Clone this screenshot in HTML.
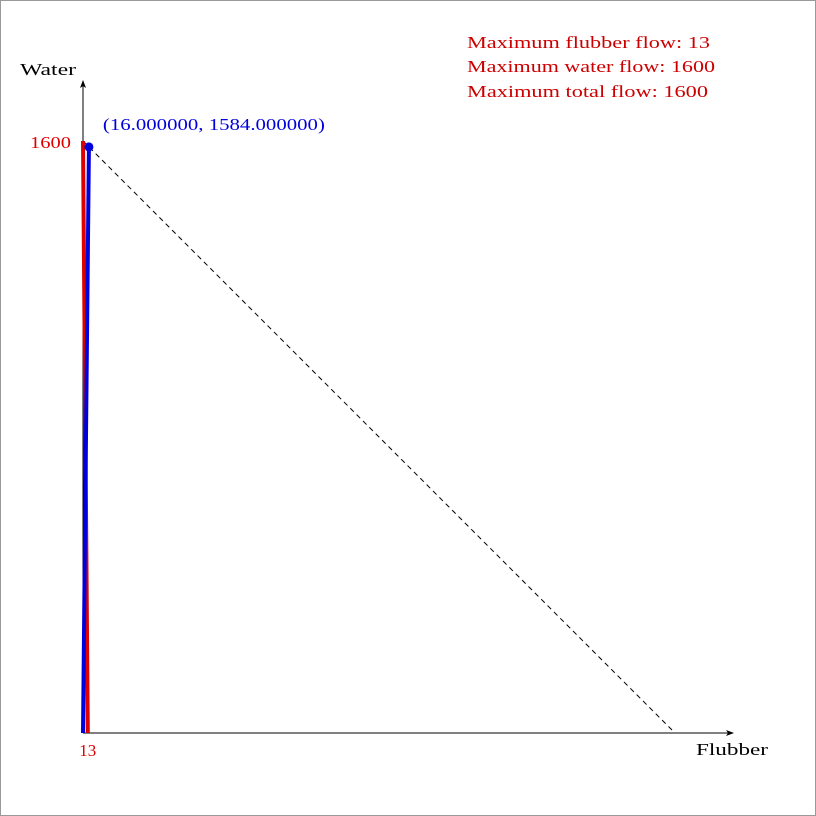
<!DOCTYPE html>
<html><head><meta charset="utf-8"><style>
html,body{margin:0;padding:0;background:#fff}
svg{display:block;font-family:"Liberation Serif",serif}
</style></head><body>
<svg width="816" height="816">
<rect x="0.5" y="0.5" width="815" height="815" fill="#fff" stroke="#999"/>
<g id="g"></g>
</svg>
<script>
const maxFlubber=[13];
const maxWater=[1600];
const maxTotal=[1600];
const point=[16,1584];
const ox=83, oy=733, s=0.37;
const X=v=>ox+v*s, Y=v=>oy-v*s;
const NS='http://www.w3.org/2000/svg', g=document.getElementById('g');
function mk(t,a,name,txt){const e=document.createElementNS(NS,t);for(const k in a)e.setAttribute(k,a[k]);


if(txt!==undefined)e.textContent=txt;g.appendChild(e);return e;}
mk('defs',{},'defs').innerHTML='<marker id="ar" markerWidth="8" markerHeight="6" refX="7" refY="3" orient="auto"><path d="M0,0 L8,3 L0,6 L2,3z" fill="#000"/></marker>';
mk('line',{x1:ox,y1:oy,x2:733,y2:oy,stroke:'#000','stroke-width':1,'marker-end':'url(#ar)'},'x-axis');
mk('line',{x1:ox,y1:oy,x2:ox,y2:81,stroke:'#000','stroke-width':1,'marker-end':'url(#ar)'},'y-axis');
mk('text',{x:696,y:755,'font-size':17,textLength:72,lengthAdjust:'spacingAndGlyphs'},'x-axis-title','Flubber');
mk('text',{x:20,y:75,'font-size':17,textLength:56,lengthAdjust:'spacingAndGlyphs'},'y-axis-title','Water');
mk('line',{x1:X(0),y1:Y(maxTotal[0]),x2:X(maxTotal[0]),y2:Y(0),stroke:'#000','stroke-dasharray':'5,4','stroke-width':1},'total-flow-line');
mk('line',{x1:X(maxFlubber[0]),y1:Y(0),x2:X(0),y2:Y(maxWater[0]),stroke:'#d00','stroke-width':4},'constraint-line');
mk('line',{x1:X(0),y1:Y(0),x2:X(point[0]),y2:Y(point[1]),stroke:'#00d','stroke-width':4},'optimal-line');
mk('circle',{cx:X(point[0]),cy:Y(point[1]),r:4.5,fill:'#00d'},'optimal-point');
mk('text',{x:X(point[0])+14,y:Y(point[1])-17,'font-size':17,fill:'#00d',textLength:222,lengthAdjust:'spacingAndGlyphs'},'point-label','('+point[0].toFixed(6)+', '+point[1].toFixed(6)+')');
mk('text',{x:30,y:148,'font-size':17,fill:'#d00',textLength:41,lengthAdjust:'spacingAndGlyphs'},'water-max-tick',String(maxWater[0]));
mk('text',{x:X(maxFlubber[0]),y:756,'font-size':17,fill:'#d00','text-anchor':'middle'},'flubber-max-tick',String(maxFlubber[0]));
mk('text',{x:467,y:48,'font-size':17,fill:'#c00',textLength:243,lengthAdjust:'spacingAndGlyphs'},'max-flubber-text','Maximum flubber flow: '+maxFlubber[0]);
mk('text',{x:467,y:72,'font-size':17,fill:'#c00',textLength:248,lengthAdjust:'spacingAndGlyphs'},'max-water-text','Maximum water flow: '+maxWater[0]);
mk('text',{x:467,y:97,'font-size':17,fill:'#c00',textLength:241,lengthAdjust:'spacingAndGlyphs'},'max-total-text','Maximum total flow: '+maxTotal[0]);
</script>
</body></html>
